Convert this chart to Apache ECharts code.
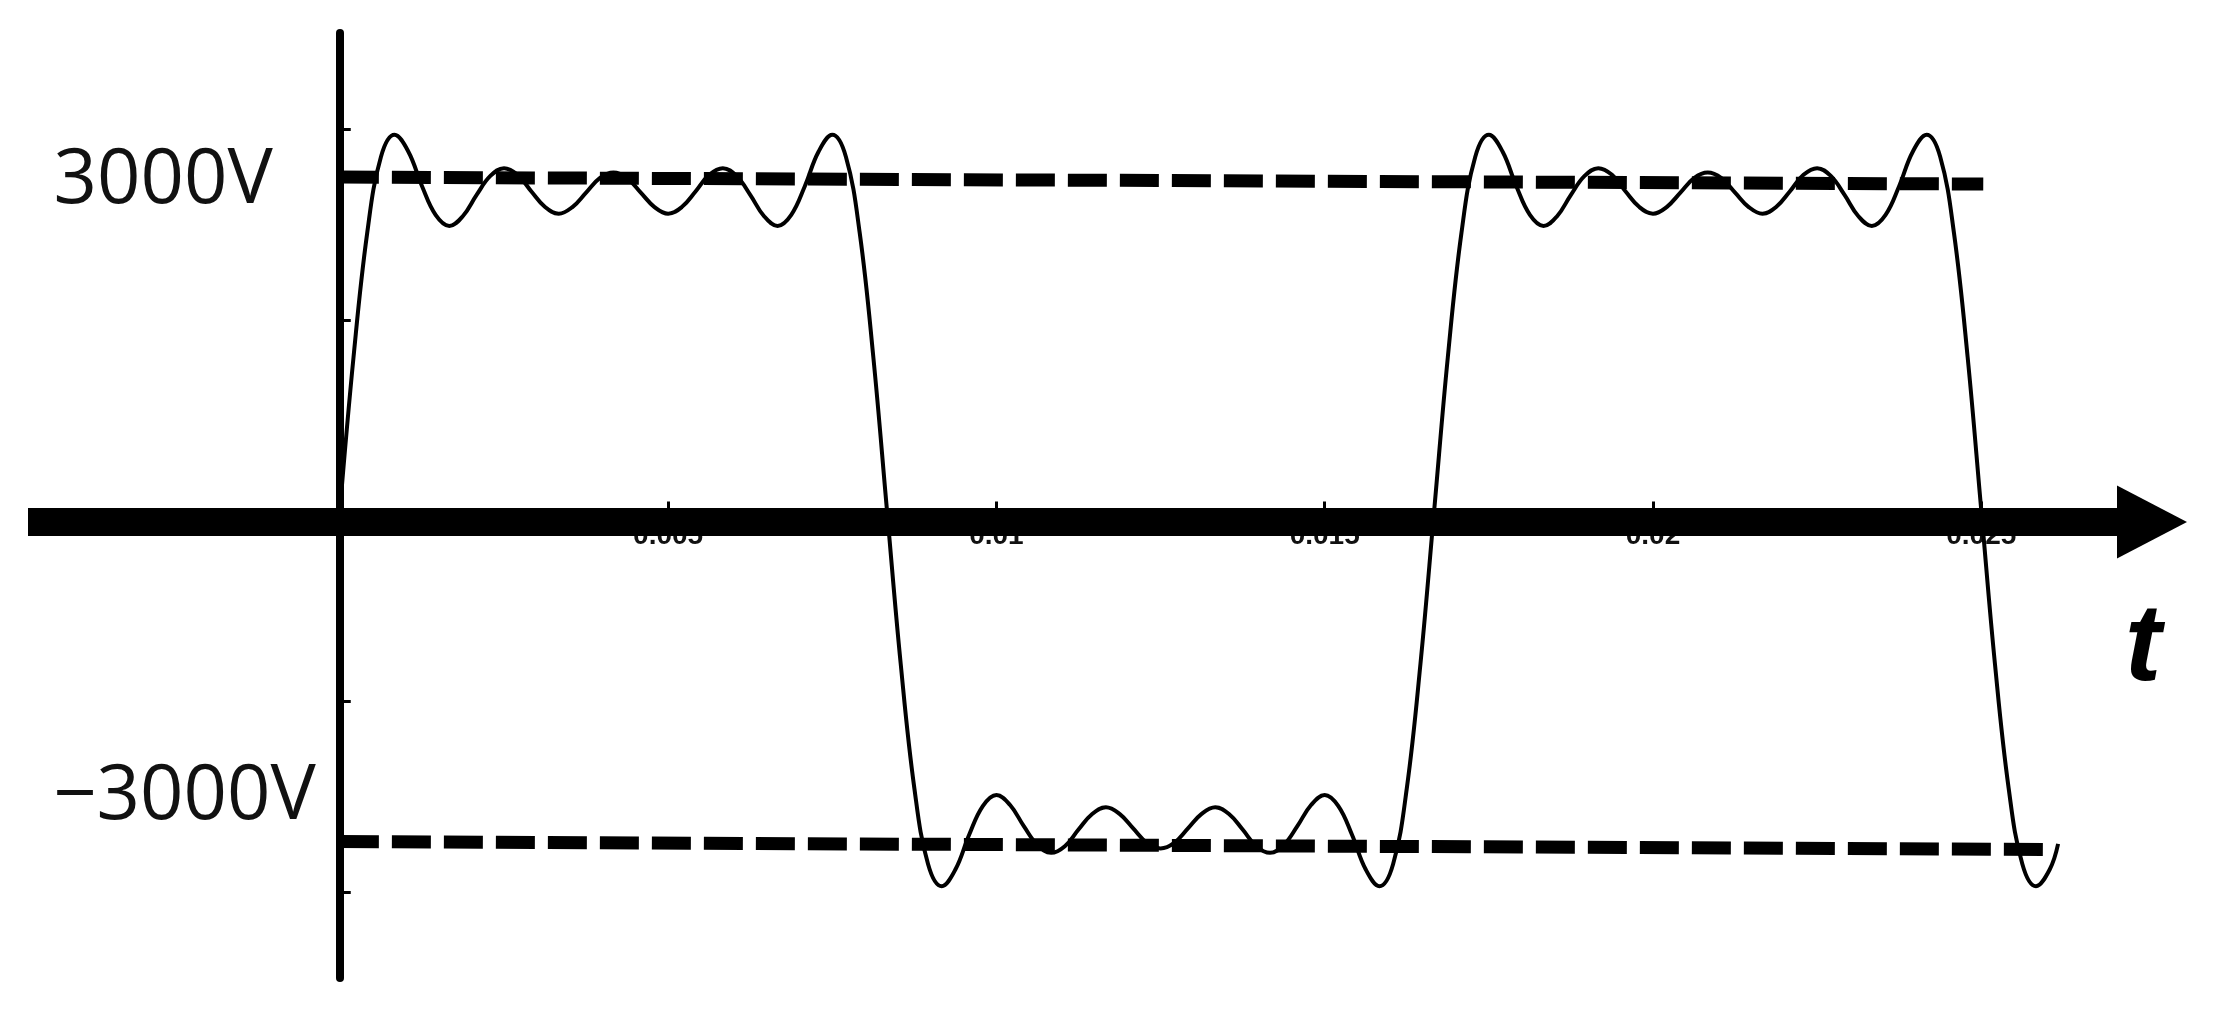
<!DOCTYPE html>
<html><head><meta charset="utf-8">
<script src="https://cdn.jsdelivr.net/npm/echarts@6/dist/echarts.min.js"></script>
<style>html,body{margin:0;padding:0;background:#fff}#chart{width:2215px;height:1019px}</style>
</head><body><div id="chart"></div>
<script>
// time in milliseconds
const timeMs = [
  0, 0.208, 0.417, 0.625, 0.833, 1.042, 1.25, 1.458, 1.667, 1.875, 2.083, 2.292, 2.5, 2.708, 2.917, 3.125, 3.333, 3.542, 3.75, 3.958,
  4.167, 4.375, 4.583, 4.792, 5.0, 5.208, 5.417, 5.625, 5.833, 6.042, 6.25, 6.458, 6.667, 6.875, 7.083, 7.292, 7.5, 7.708, 7.917, 8.125,
  8.333, 8.542, 8.75, 8.958, 9.167, 9.375, 9.583, 9.792, 10.0, 10.208, 10.417, 10.625, 10.833, 11.042, 11.25, 11.458, 11.667, 11.875, 12.083, 12.292,
  12.5, 12.708, 12.917, 13.125, 13.333, 13.542, 13.75, 13.958, 14.167, 14.375, 14.583, 14.792, 15.0, 15.208, 15.417, 15.625, 15.833, 16.042, 16.25, 16.458,
  16.667, 16.875, 17.083, 17.292, 17.5, 17.708, 17.917, 18.125, 18.333, 18.542, 18.75, 18.958, 19.167, 19.375, 19.583, 19.792, 20.0, 20.208, 20.417, 20.625,
  20.833, 21.042, 21.25, 21.458, 21.667, 21.875, 22.083, 22.292, 22.5, 22.708, 22.917, 23.125, 23.333, 23.542, 23.75, 23.958, 24.167, 24.375, 24.583, 24.792,
  25.0, 25.208, 25.417, 25.625, 25.833, 26.042, 26.17
];
// voltage in volts at each time above
const voltage = [
  0, 1380, 2500, 3180, 3380, 3230, 2920, 2660, 2560, 2650, 2840, 3010, 3080, 3020, 2870, 2730, 2670, 2730, 2860, 2990,
  3040, 2990, 2860, 2730, 2670, 2730, 2870, 3020, 3080, 3010, 2840, 2650, 2560, 2660, 2920, 3230, 3380, 3180, 2500, 1380,
  0, -1380, -2500, -3180, -3380, -3230, -2920, -2660, -2560, -2650, -2840, -3010, -3080, -3020, -2870, -2730, -2670, -2730, -2860, -2990,
  -3040, -2990, -2860, -2730, -2670, -2730, -2870, -3020, -3080, -3010, -2840, -2650, -2560, -2660, -2920, -3230, -3380, -3180, -2500, -1380,
  0, 1380, 2500, 3180, 3380, 3230, 2920, 2660, 2560, 2650, 2840, 3010, 3080, 3020, 2870, 2730, 2670, 2730, 2860, 2990,
  3040, 2990, 2860, 2730, 2670, 2730, 2870, 3020, 3080, 3010, 2840, 2650, 2560, 2660, 2920, 3230, 3380, 3180, 2500, 1380,
  0, -1380, -2500, -3180, -3380, -3230, -3000
];
// dashed reference levels (drawn slightly tilted in the original)
const upperRefTimeMs = [0, 25.03];
const upperRefVolt = [3000, 2937];
const lowerRefTimeMs = [0, 26.02];
const lowerRefVolt = [-2978, -3050];

const xTickValues = [0.005, 0.01, 0.015, 0.02, 0.025];
const xTickLabels = ['0.005', '0.01', '0.015', '0.02', '0.025'];
const yTickValues = [-3432, -1714, 1714, 3432];
const yLabelValues = [3000, -3000];
const yLabelTexts = ['3000V', '\u22123000V'];
const timeAxisLevel = -103;
const axisName = 't';

const toXY = (ts, vs) => ts.map((t, i) => [t / 1000, vs[i]]);

const chart = echarts.init(document.getElementById('chart'), null, {renderer: 'canvas'});
chart.setOption({
  animation: false,
  backgroundColor: '#fff',
  grid: {left: 28, right: 63, top: 33, bottom: 41, outerBoundsMode: 'none', containLabel: false},
  xAxis: {
    type: 'value', min: -0.00475, max: 0.0276,
    position: 'bottom', offset: -467.5,
    axisLine: {show: false, onZero: false},
    axisTick: {show: true, inside: true, length: 9, customValues: xTickValues, lineStyle: {color: '#000', width: 3}},
    axisLabel: {
      show: true, customValues: xTickValues, margin: 12,
      fontSize: 28, fontWeight: 'bold', fontFamily: 'Liberation Sans', color: '#111',
      formatter: v => { const i = xTickValues.findIndex(x => Math.abs(x - v) < 1e-9); return i >= 0 ? xTickLabels[i] : ''; }
    },
    splitLine: {show: false}
  },
  yAxis: {
    type: 'value', min: -4206, max: 4296,
    position: 'left', offset: -311.75,
    axisLine: {show: true, onZero: false, lineStyle: {color: '#000', width: 8}},
    axisTick: {show: true, inside: true, length: 11, customValues: yTickValues, lineStyle: {color: '#000', width: 3}},
    axisLabel: {
      show: true, customValues: yLabelValues, margin: 24,
      formatter: v => v > 0 ? '{p|' + yLabelTexts[0] + '}' : '{n|' + yLabelTexts[1] + '}',
      rich: {
        p: {fontSize: 76, fontFamily: 'Open Sans', color: '#111', padding: [8, 43, 0, 0]},
        n: {fontSize: 76, fontFamily: 'Open Sans', color: '#111', padding: [0, 0, 94, 0]}
      }
    },
    splitLine: {show: false}
  },
  series: [
    {
      type: 'line', name: 'upper', data: toXY(upperRefTimeMs, upperRefVolt),
      showSymbol: false, silent: true, z: 2,
      lineStyle: {color: '#000', width: 13, type: [39, 13], cap: 'butt'}
    },
    {
      type: 'line', name: 'lower', data: toXY(lowerRefTimeMs, lowerRefVolt),
      showSymbol: false, silent: true, z: 2,
      lineStyle: {color: '#000', width: 13, type: [39, 13], cap: 'butt'}
    },
    {
      type: 'line', name: 'voltage', data: toXY(timeMs, voltage),
      showSymbol: false, smooth: 0.4, silent: true, z: 3,
      lineStyle: {color: '#000', width: 4},
      markLine: {
        silent: true, animation: false,
        symbol: ['none', 'triangle'], symbolSize: [73, 70],
        label: {show: false},
        lineStyle: {color: '#000', width: 28, type: 'solid', opacity: 1},
        emphasis: {disabled: true},
        data: [{yAxis: timeAxisLevel}]
      }
    }
  ],
  graphic: [{
    type: 'text', x: 2143, y: 650, z: 10,
    style: {text: axisName, font: 'italic bold 110px "Liberation Sans"', fill: '#000', align: 'center', verticalAlign: 'middle'}
  }]
});
</script></body></html>
